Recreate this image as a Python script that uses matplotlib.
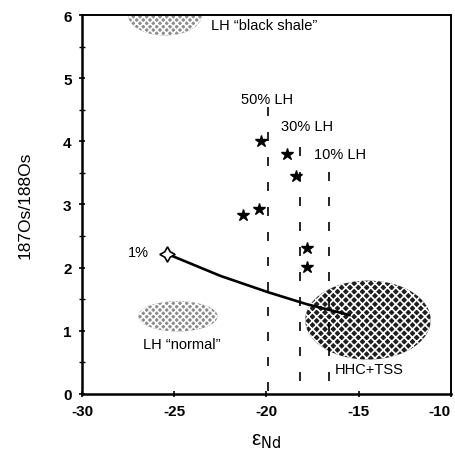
import matplotlib.pyplot as plt
from matplotlib.patches import Ellipse

plt.rcParams['font.family'] = ['Liberation Sans', 'DejaVu Sans']
plt.rcParams['axes.unicode_minus'] = False
plt.rcParams['hatch.linewidth'] = 1.2

# samples (stars)
star_eps = [-20.3, -18.9, -18.4, -21.3, -20.4, -17.8, -17.8]
star_os = [4.00, 3.80, 3.45, 2.83, 2.93, 2.31, 2.01]

# mixing curve from 1% LH towards HHC+TSS
mix_eps = [-25.4, -22.5, -19.9, -17.8, -15.5]
mix_os = [2.22, 1.87, 1.61, 1.42, 1.25]

# mixing proportion lines: label, eps, top, bottom
mix_labels = ['50% LH', '30% LH', '10% LH']
mix_x = [-19.9, -18.2, -16.6]
mix_top = [4.55, 4.05, 3.55]
mix_bot = [0.05, 0.2, 0.2]
mix_label_pos = [(-21.4, 4.67), (-19.2, 4.24), (-17.4, 3.80)]

# fields: name, centre eps, centre os, width, height
fields = [
    ('LH \u201cblack shale\u201d', -25.5, 6.0, 4.0, 0.65),
    ('LH \u201cnormal\u201d', -24.8, 1.23, 4.3, 0.48),
    ('HHC+TSS', -14.5, 1.17, 6.8, 1.25),
]

x_ticks = [-30, -25, -20, -15, -10]
y_ticks = [0, 1, 2, 3, 4, 5, 6]

fig = plt.figure(figsize=(4.55, 4.56), dpi=100)
ax = fig.add_axes([0.1802, 0.1338, 0.811, 0.8311])

# fields, drawn with hatching instead of the scanned stipple
for name, cx, cy, w, h in fields:
    if name == 'HHC+TSS':
        e = Ellipse((cx, cy), w, h, facecolor='0.12', edgecolor='white',
                    hatch='xxxx', linewidth=0, zorder=1)
    else:
        e = Ellipse((cx, cy), w, h, facecolor='0.55', edgecolor='white',
                    hatch='xxxxx', linewidth=0, zorder=1)
    ax.add_patch(e)

ax.text(-23.0, 5.84, fields[0][0], fontsize=10.5, va='center', ha='left')
ax.text(-24.6, 0.79, fields[1][0], fontsize=10.5, va='center', ha='center')
ax.text(-16.3, 0.40, fields[2][0], fontsize=10.5, va='center', ha='left')

for lab, x, top, bot, pos in zip(mix_labels, mix_x, mix_top, mix_bot, mix_label_pos):
    ax.plot([x, x], [bot, top], color='black', lw=1.2,
            linestyle=(0, (5.4, 9.6)), zorder=2)
    ax.text(pos[0], pos[1], lab, fontsize=10.5, va='center', ha='left')

ax.plot(mix_eps, mix_os, color='black', lw=1.9, zorder=3)
ax.plot(mix_eps[0], mix_os[0], marker=(4, 1, 0), markersize=11,
        markerfacecolor='white', markeredgecolor='black', mew=1.2, zorder=4)
ax.text(-26.4, 2.25, '1%', fontsize=10.5, va='center', ha='right')

ax.plot(star_eps, star_os, linestyle='none', marker='*', markersize=9,
        color='black', zorder=4)

ax.set_xlim(-30, -10)
ax.set_ylim(0, 6)
ax.set_xticks(x_ticks)
ax.set_yticks(y_ticks)
ax.set_yticks([0.5, 1.5, 2.5, 3.5, 4.5, 5.5], minor=True)
ax.tick_params(direction='inout', length=5, width=1.2, labelsize=11, pad=5)
ax.tick_params(which='minor', direction='inout', length=4, width=1.0)
for lab in ax.get_xticklabels() + ax.get_yticklabels():
    lab.set_fontweight('bold')
# last x label sits against the figure edge
ax.get_xticklabels()[-1].set_horizontalalignment('right')
for s in ax.spines.values():
    s.set_linewidth(1.4)
ax.spines['left'].set_linewidth(1.8)
ax.spines['bottom'].set_linewidth(1.8)

ax.set_xlabel('\u03b5$_{\\rm Nd}$', fontsize=15, labelpad=9)
ax.set_ylabel('187Os/188Os', fontsize=12.5, labelpad=22)

fig.savefig('out.png', dpi=100)
